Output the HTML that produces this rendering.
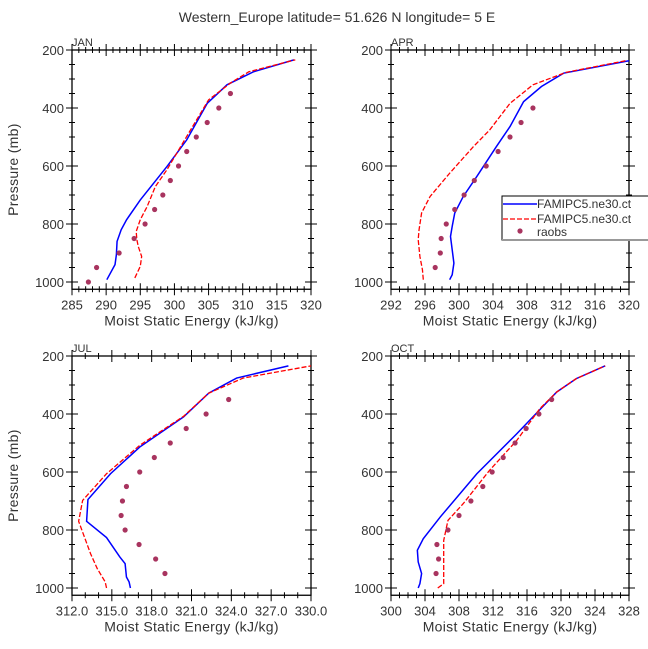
<!DOCTYPE html>
<html><head><meta charset="utf-8">
<style>
body{margin:0;background:#fff;}
svg{display:block;font-family:"Liberation Sans",sans-serif;}
</style></head>
<body>
<svg id="chart" width="648" height="649" viewBox="0 0 648 649" xmlns="http://www.w3.org/2000/svg">
<text x="337" y="22" text-anchor="middle" font-size="14" fill="#333">Western_Europe  latitude= 51.626 N longitude= 5 E</text>
</svg>
<script>
const obsP=[1000,950,900,850,800,750,700,650,600,550,500,450,400,350];
const janObs=[287.4,288.6,291.9,294.1,295.7,297.1,298.3,299.4,300.6,301.8,303.2,304.8,306.5,308.2];
const janBlueP=[992,940,906,860,820,785,717,602,510,384,320,275,234];
const janBlue=[290.1,291.3,291.5,291.6,292.2,293.0,295.0,298.9,301.8,304.8,307.7,311.6,317.5];
const janRedP=[986,946,912,877,854,826,785,740,671,613,498,372,314,275,234];
const janRed=[294.2,295.0,295.2,294.7,294.5,294.4,295.0,296.0,297.2,298.9,301.8,305.0,308.2,310.9,317.7];
const aprObsP=[950,900,850,800,750,700,650,600,550,500,450,400];
const aprObs=[297.2,297.8,297.9,298.5,299.5,300.6,301.8,303.2,304.6,306.0,307.3,308.7];
const aprBlueP=[992,975,935,889,843,808,762,705,636,533,464,378,326,280,237];
const aprBlue=[298.9,299.2,299.4,299.2,299.0,299.2,299.5,300.5,302.1,304.4,306.0,307.6,309.7,312.3,320.0];
const aprRedP=[992,958,912,854,820,762,705,625,533,476,384,320,277,237];
const aprRed=[295.8,295.7,295.4,295.2,295.3,295.6,296.6,298.9,301.7,303.6,306.0,308.7,312.6,319.6];
const julObsP=[950,900,850,800,750,700,650,600,550,500,450,400,350];
const julObs=[319.0,318.3,317.05,316.0,315.7,315.8,316.1,317.1,318.2,319.4,320.6,322.1,323.8];
const julBlueP=[1000,979,962,916,893,826,770,695,606,514,410,328,276,234];
const julBlue=[316.4,316.3,316.1,316.0,315.6,314.6,313.1,313.2,314.9,317.1,320.4,322.3,324.4,328.3];
const julRedP=[1000,979,933,882,770,698,606,508,408,328,276,234];
const julRed=[314.6,314.5,313.9,313.4,312.5,312.8,314.6,317.1,320.4,322.3,324.9,330.0];
const octObsP=[950,900,850,800,750,700,650,600,550,500,450,400,350];
const octObs=[305.3,305.6,305.4,306.7,308.0,309.4,310.8,311.9,313.2,314.6,315.9,317.4,318.9];
const octBlueP=[1000,985,950,910,870,830,755,606,468,324,278,234];
const octBlue=[303.2,303.4,303.6,303.2,303.1,303.8,305.8,310.1,314.8,319.5,321.8,325.2];
const octRedP=[1000,985,916,836,767,709,594,491,382,324,278,234];
const octRed=[305.5,306.2,306.2,306.2,306.7,308.5,311.6,314.8,317.5,319.5,321.8,325.2];
const janTicks=[285,290,295,300,305,310,315,320];
const aprTicks=[292,296,300,304,308,312,316,320];
const julTicks=[312,315,318,321,324,327,330];
const julTickLabels=["312.0","315.0","318.0","321.0","324.0","327.0","330.0"];
const octTicks=[300,304,308,312,316,320,324,328];
const pTicks=[200,400,600,800,1000];

const NS="http://www.w3.org/2000/svg";
const svg=document.getElementById('chart');
function mk(tag,attrs,parent){const e=document.createElementNS(NS,tag);for(const k in attrs)e.setAttribute(k,attrs[k]);(parent||svg).appendChild(e);return e;}

const panels=[
 {name:'jan',label:'JAN',x0:72,x1:311,top:50,xmin:285,xmax:320,ticks:janTicks,labels:null,minor:1,obsP:obsP,obs:janObs,bP:janBlueP,b:janBlue,rP:janRedP,r:janRed,ylab:true},
 {name:'apr',label:'APR',x0:391,x1:629,top:50,xmin:292,xmax:320,ticks:aprTicks,labels:null,minor:1,obsP:aprObsP,obs:aprObs,bP:aprBlueP,b:aprBlue,rP:aprRedP,r:aprRed,ylab:false},
 {name:'jul',label:'JUL',x0:72,x1:311,top:356,xmin:312,xmax:330,ticks:julTicks,labels:julTickLabels,minor:1,obsP:julObsP,obs:julObs,bP:julBlueP,b:julBlue,rP:julRedP,r:julRed,ylab:true},
 {name:'oct',label:'OCT',x0:391,x1:629,top:356,xmin:300,xmax:328,ticks:octTicks,labels:null,minor:1,obsP:octObsP,obs:octObs,bP:octBlueP,b:octBlue,rP:octRedP,r:octRed,ylab:false}
];
panels.forEach(P=>{
 const g=mk('g',{});
 
 
 const py=0.29, yb=P.top+(1025-200)*py;
 const X=v=>P.x0+(v-P.xmin)/(P.xmax-P.xmin)*(P.x1-P.x0);
 const Y=p=>P.top+(p-200)*py;
 const frame=mk('rect',{x:P.x0,y:P.top,width:P.x1-P.x0,height:yb-P.top,fill:'none',stroke:'#000','stroke-width':1.3},g);
 
 
 const t=mk('text',{x:P.x0,y:P.top-4,'font-size':11,fill:'#333'},g);t.textContent=P.label;
 
 
 // y ticks
 for(let p=200;p<=1000;p+=50){
  const y=Y(p),maj=pTicks.includes(p),L=maj?6:3;
  mk('line',{x1:P.x0-L,x2:P.x0+L,y1:y,y2:y,stroke:'#000','stroke-width':1},g);
  mk('line',{x1:P.x1-L,x2:P.x1+L,y1:y,y2:y,stroke:'#000','stroke-width':1},g);
 }
 pTicks.forEach(p=>{const tl=mk('text',{x:P.x0-8,y:Y(p)+5,'text-anchor':'end','font-size':13,fill:'#333'},g);tl.textContent=p;
  
  });
 // x ticks
 for(let v=P.xmin;v<=P.xmax+1e-9;v+=P.minor){
  const x=X(v),maj=P.ticks.some(t=>Math.abs(t-v)<1e-6),L=maj?6:3;
  mk('line',{x1:x,x2:x,y1:yb-L,y2:yb+L,stroke:'#000','stroke-width':1},g);
  mk('line',{x1:x,x2:x,y1:P.top-L,y2:P.top+L,stroke:'#000','stroke-width':1},g);
 }
 P.ticks.forEach((v,i)=>{const tl=mk('text',{x:X(v),y:yb+20,'text-anchor':'middle','font-size':13,fill:'#333'},g);tl.textContent=P.labels?P.labels[i]:v;
  
  });
 const xl=mk('text',{x:(P.x0+P.x1)/2,y:yb+36,'text-anchor':'middle','font-size':14,fill:'#333','letter-spacing':'0.3'},g);
 xl.textContent='Moist Static Energy (kJ/kg)';
 
 
 if(P.ylab){const yl=mk('text',{x:0,y:0,transform:`translate(18,${(P.top+yb)/2}) rotate(-90)`,'text-anchor':'middle','font-size':14,fill:'#333','letter-spacing':'0.3'},g);
  yl.textContent='Pressure (mb)';
  
  }
 const bl=mk('polyline',{points:P.b.map((v,i)=>X(v)+','+Y(P.bP[i])).join(' '),fill:'none',stroke:'#0000ff','stroke-width':1.5},g);
 
 
 const rl=mk('polyline',{points:P.r.map((v,i)=>X(v)+','+Y(P.rP[i])).join(' '),fill:'none',stroke:'#ff0000','stroke-width':1.3,'stroke-dasharray':'5,2'},g);
 
 
 P.obs.forEach((v,i)=>{const c=mk('circle',{cx:X(v),cy:Y(P.obsP[i]),r:2.6,fill:'#a8345f'},g);
  
  });
});
// legend
const lg=mk('g',{});


mk('rect',{x:502,y:196,width:150,height:44,fill:'#fff',stroke:'#000','stroke-width':1},lg);
mk('line',{x1:502,x2:648,y1:240,y2:240,stroke:'#999','stroke-width':2},lg);
mk('line',{x1:503,x2:537,y1:204,y2:204,stroke:'#0000ff','stroke-width':1.5},lg);
mk('line',{x1:503,x2:537,y1:219,y2:219,stroke:'#ff0000','stroke-width':1.3,'stroke-dasharray':'5,2'},lg);
mk('circle',{cx:520,cy:231,r:2.6,fill:'#a8345f'},lg);
[['FAMIPC5.ne30.ct',208,'legend-entry-blue'],['FAMIPC5.ne30.ct',223,'legend-entry-red'],['raobs',236,'legend-entry-raobs']].forEach(a=>{
 const t=mk('text',{x:537,y:a[1],'font-size':12,fill:'#333'},lg);t.textContent=a[0];
 
 
});
</script>
</body></html>
